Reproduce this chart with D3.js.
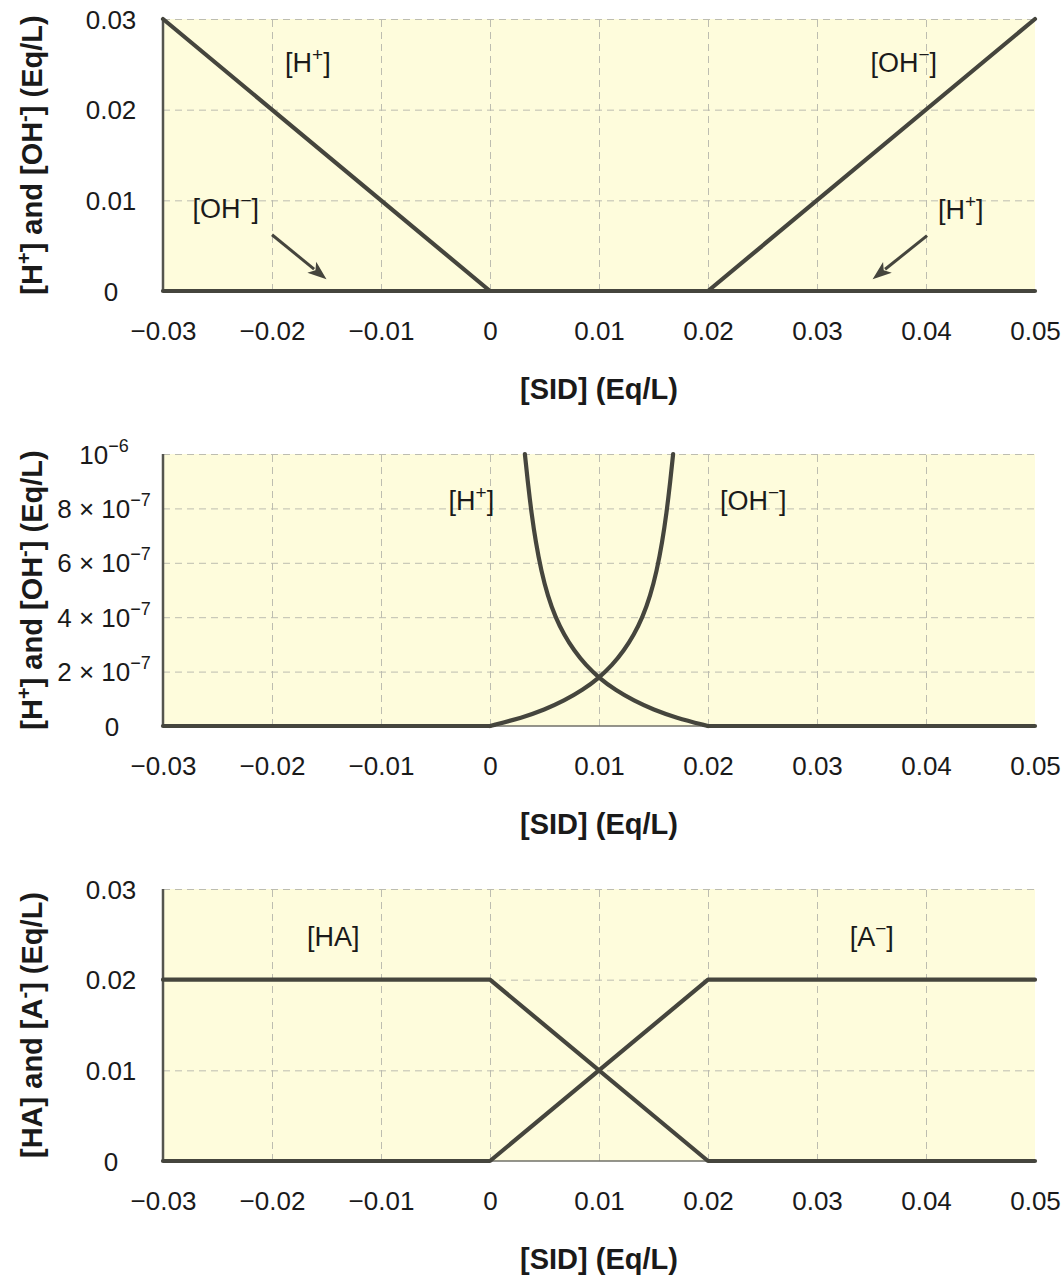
<!DOCTYPE html>
<html><head><meta charset="utf-8">
<script src="https://cdn.jsdelivr.net/npm/d3@7"></script>
<style>
body{margin:0;background:#fff;}
text{font-family:"Liberation Sans",Arial,sans-serif;fill:#1a1a1a;}
</style></head>
<body>
<svg id="c" width="1064" height="1276"></svg>
<script>
// ---------- data ----------
const xDomain = [-0.03, 0.05];
const xTicks = [-0.03, -0.02, -0.01, 0, 0.01, 0.02, 0.03, 0.04, 0.05];

// Panel 1: [H+] and [OH-] linear scale
const yTicks1 = [0, 0.01, 0.02, 0.03];
const yLabels1 = [["0"], ["0.01"], ["0.02"], ["0.03"]];
const hPlus1 = [[-0.03, 0.03], [0, 0], [0.05, 0]];
const ohMinus1 = [[-0.03, 0], [0.02, 0], [0.05, 0.03]];

// Panel 2: zoomed 0..1e-6
const yTicks2 = [0, 2e-7, 4e-7, 6e-7, 8e-7, 1e-6];
const yLabels2 = [["0"], ["2 × 10", "−7"], ["4 × 10", "−7"], ["6 × 10", "−7"], ["8 × 10", "−7"], ["10", "−6"]];
const hPlus2Curve = [[0.0032, 1.000e-6], [0.0035, 0.885e-6], [0.0038, 0.785e-6], [0.0042, 0.675e-6],
  [0.0047, 0.570e-6], [0.0053, 0.478e-6], [0.0060, 0.400e-6], [0.0068, 0.335e-6], [0.0077, 0.278e-6],
  [0.0088, 0.223e-6], [0.0100, 0.177e-6], [0.0115, 0.132e-6], [0.0132, 0.093e-6], [0.0150, 0.060e-6],
  [0.0170, 0.031e-6], [0.0200, 0]];
const hPlus2Flat = [[0.02, 0], [0.05, 0]];
const ohMinus2Flat = [[-0.03, 0], [0, 0]];
const ohMinus2Curve = [[0, 0], [0.0030, 0.031e-6], [0.0050, 0.060e-6], [0.0068, 0.093e-6], [0.0085, 0.132e-6],
  [0.0100, 0.177e-6], [0.0112, 0.223e-6], [0.0123, 0.278e-6], [0.0132, 0.335e-6], [0.0140, 0.400e-6],
  [0.0147, 0.478e-6], [0.0153, 0.570e-6], [0.0158, 0.675e-6], [0.0162, 0.785e-6], [0.0165, 0.885e-6],
  [0.0168, 1.000e-6]];

// Panel 3: [HA] and [A-]
const yTicks3 = [0, 0.01, 0.02, 0.03];
const yLabels3 = [["0"], ["0.01"], ["0.02"], ["0.03"]];
const haLine = [[-0.03, 0.02], [0, 0.02], [0.02, 0], [0.05, 0]];
const aMinusLine = [[-0.03, 0], [0, 0], [0.02, 0.02], [0.05, 0.02]];

// text labels (data coords of text start / baseline)
const notes1 = [
  {parts: [["[H", 0], ["+", 1], ["]", 0]], at: [-0.0188, 0.0241]},
  {parts: [["[OH", 0], ["−", 1], ["]", 0]], at: [0.0349, 0.0241]},
  {parts: [["[OH", 0], ["−", 1], ["]", 0]], at: [-0.0273, 0.0080]},
  {parts: [["[H", 0], ["+", 1], ["]", 0]], at: [0.0411, 0.0079]}
];
const arrows1 = [
  {from: [-0.0200, 0.0062], to: [-0.0150, 0.0013]},
  {from: [0.0401, 0.0061], to: [0.0351, 0.0013]}
];
const notes2 = [
  {parts: [["[H", 0], ["+", 1], ["]", 0]], at: [-0.0038, 7.95e-7]},
  {parts: [["[OH", 0], ["−", 1], ["]", 0]], at: [0.0211, 7.95e-7]}
];
const notes3 = [
  {parts: [["[HA]", 0]], at: [-0.0168, 0.0237]},
  {parts: [["[A", 0], ["−", 1], ["]", 0]], at: [0.0330, 0.0237]}
];

const xTitle = "[SID] (Eq/L)";
const yTitle1 = [["[H", 0], ["+", 1], ["] and [OH", 0], ["-", 1], ["] (Eq/L)", 0]];
const yTitle3 = [["[HA] and [A", 0], ["-", 1], ["] (Eq/L)", 0]];

// ---------- layout ----------
const L = 163, R = 1035, PH = 272;
const LINE = "#45453d";
const svg = d3.select("#c");

function richText(sel, parts, size, supSize, shift) {
  parts.forEach(([t, sup], i) => {
    const ts = sel.append("tspan").text(t).attr("font-size", sup ? supSize : size);
    if (sup) ts.attr("dy", -shift);
    else if (i > 0 && parts[i - 1][1]) ts.attr("dy", shift);
  });
}

const panels = [
  {top: 19, yMax: 0.03, yTicks: yTicks1, yLabels: yLabels1, lblX: 111,
   lines: [{d: hPlus1, curve: d3.curveLinear}, {d: ohMinus1, curve: d3.curveLinear}],
   notes: notes1, arrows: arrows1, yTitle: yTitle1},
  {top: 454, yMax: 1e-6, yTicks: yTicks2, yLabels: yLabels2, lblX: 112,
   lines: [{d: ohMinus2Flat, curve: d3.curveLinear}, {d: hPlus2Flat, curve: d3.curveLinear},
           {d: hPlus2Curve, curve: d3.curveBasis}, {d: ohMinus2Curve, curve: d3.curveBasis}],
   notes: notes2, arrows: [], yTitle: yTitle1},
  {top: 889, yMax: 0.03, yTicks: yTicks3, yLabels: yLabels3, lblX: 111,
   lines: [{d: haLine, curve: d3.curveLinear}, {d: aMinusLine, curve: d3.curveLinear}],
   notes: notes3, arrows: [], yTitle: yTitle3}
];

const fmtX = d => d === 0 ? "0" : (d < 0 ? "−" : "") + Math.abs(d).toFixed(2);

panels.forEach(p => {
  const g = svg.append("g").attr("transform", `translate(0,${p.top})`);
  const x = d3.scaleLinear().domain(xDomain).range([L, R]);
  const y = d3.scaleLinear().domain([0, p.yMax]).range([PH, 0]);

  g.append("rect").attr("x", L).attr("y", 0).attr("width", R - L).attr("height", PH).attr("fill", "#fefcdc");

  // grid
  const gx = g.append("g").attr("transform", `translate(0,${PH})`)
    .call(d3.axisBottom(x).tickValues(xTicks.slice(1, -1)).tickSize(-PH).tickFormat(""));
  gx.select(".domain").remove();
  const gy = g.append("g").attr("transform", `translate(${L},0)`)
    .call(d3.axisLeft(y).tickValues(p.yTicks.slice(1)).tickSize(-(R - L)).tickFormat(""));
  gy.select(".domain").remove();
  g.selectAll(".tick line").attr("stroke", "#bdbdb0").attr("stroke-width", 1).attr("stroke-dasharray", "7,5");

  // axes lines
  g.append("line").attr("x1", L).attr("x2", R).attr("y1", PH).attr("y2", PH).attr("stroke", "#707068").attr("stroke-width", 1.5);
  g.append("line").attr("x1", L).attr("x2", L).attr("y1", 0).attr("y2", PH).attr("stroke", "#55554f").attr("stroke-width", 2.5);

  // x tick labels
  const ax = g.append("g").attr("transform", `translate(0,${PH})`)
    .call(d3.axisBottom(x).tickValues(xTicks).tickSize(0).tickPadding(31).tickFormat(fmtX));
  ax.select(".domain").remove();
  ax.selectAll("text").attr("font-size", 26).attr("font-family", null).attr("fill", "#1a1a1a");

  // y tick labels
  const ay = g.append("g").attr("transform", `translate(${p.lblX},0)`)
    .call(d3.axisLeft(y).tickValues(p.yTicks).tickSize(0).tickPadding(0).tickFormat(""));
  ay.select(".domain").remove();
  ay.selectAll(".tick text").each(function(d, i) {
    const t = d3.select(this).attr("text-anchor", "middle").attr("font-size", 26)
      .attr("font-family", null).attr("fill", "#1a1a1a").attr("dy", "0.35em");
    const lab = p.yLabels[i];
    t.append("tspan").text(lab[0]);
    if (lab.length > 1) {
      t.attr("x", -8);
      t.append("tspan").text(lab[1]).attr("font-size", 18).attr("dy", -12);
    }
  });

  // data lines
  p.lines.forEach(l => {
    g.append("path").datum(l.d)
      .attr("d", d3.line().x(d => x(d[0])).y(d => y(d[1])).curve(l.curve))
      .attr("fill", "none").attr("stroke", LINE).attr("stroke-width", 4.2)
      .attr("stroke-linejoin", "round").attr("stroke-linecap", "round");
  });

  // annotations
  p.notes.forEach(n => {
    const t = g.append("text").attr("x", x(n.at[0])).attr("y", y(n.at[1])).attr("font-size", 27);
    richText(t, n.parts, 27, 19, 11);
  });
  p.arrows.forEach(a => {
    const x1 = x(a.from[0]), y1 = y(a.from[1]), x2 = x(a.to[0]), y2 = y(a.to[1]);
    const ang = Math.atan2(y2 - y1, x2 - x1), hl = 19, hw = 7;
    const bx = x2 - hl * Math.cos(ang), by = y2 - hl * Math.sin(ang);
    g.append("line").attr("x1", x1).attr("y1", y1).attr("x2", bx + 3 * Math.cos(ang)).attr("y2", by + 3 * Math.sin(ang))
      .attr("stroke", LINE).attr("stroke-width", 3);
    const pts = [[x2, y2], [bx - hw * Math.sin(ang), by + hw * Math.cos(ang)],
                 [x2 - 0.75 * hl * Math.cos(ang), y2 - 0.75 * hl * Math.sin(ang)],
                 [bx + hw * Math.sin(ang), by - hw * Math.cos(ang)]];
    g.append("polygon").attr("points", pts.map(q => q.join(",")).join(" ")).attr("fill", LINE);
  });

  // x title
  g.append("text").attr("x", (L + R) / 2).attr("y", PH + 108).attr("text-anchor", "middle")
    .attr("font-size", 29).attr("font-weight", "bold").text(xTitle);

  // y title
  const yt = g.append("text").attr("transform", `translate(42,${PH / 2}) rotate(-90)`)
    .attr("text-anchor", "middle").attr("font-size", 29).attr("font-weight", "bold");
  richText(yt, p.yTitle, 29, 20, 11);
});
</script>
</body></html>
